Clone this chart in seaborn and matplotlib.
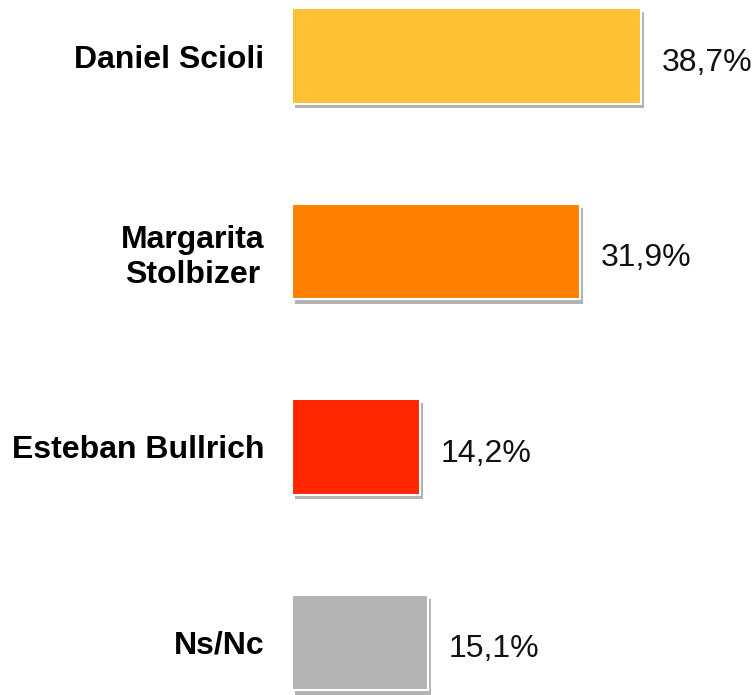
import matplotlib
matplotlib.use("Agg")
import matplotlib.pyplot as plt
import matplotlib.patheffects as pe
import seaborn as sns
import pandas as pd

categories = ["Daniel Scioli", "Margarita\nStolbizer", "Esteban Bullrich", "Ns/Nc"]
values = [38.7, 31.9, 14.2, 15.1]
value_labels = ["38,7%", "31,9%", "14,2%", "15,1%"]
colors = ["#FFC133", "#FF8000", "#FF2600", "#B3B3B3"]

sns.set_theme(style="white")
plt.rcParams["font.family"] = ["Liberation Sans", "DejaVu Sans"]

df = pd.DataFrame({"cat": categories, "val": values})

fig = plt.figure(figsize=(7.56, 6.95), dpi=100)
ax = fig.add_axes([292 / 756, 0, 1 - 292 / 756, 1])
sns.barplot(data=df, x="val", y="cat", hue="cat", palette=colors, orient="h",
            width=0.49, legend=False, ax=ax, saturation=1)

for p in ax.patches:
    p.set_edgecolor("white")
    p.set_linewidth(1.5)
    p.set_path_effects([pe.SimplePatchShadow(offset=(2, -3), shadow_rgbFace="#666666", alpha=0.5),
                        pe.Normal()])

for i, (v, lab) in enumerate(zip(values, value_labels)):
    ax.text(v + 2.3, i + 0.035, lab, va="center", ha="left", fontsize=23, color="#111111")

ax.set_xlim(0, 464 / 9.02)
ax.set_ylim(3 + 52.5 / 195.5, -56 / 195.5)
ax.set_xlabel("")
ax.set_ylabel("")
ax.set_xticks([])
ax.tick_params(axis="y", length=0, pad=20)
for t in ax.get_yticklabels():
    t.set_fontweight("bold")
    t.set_fontsize(23)
    t.set_multialignment("center")
    t.set_color("black")
    t.set_y(t.get_position()[1])
for s in ax.spines.values():
    s.set_visible(False)

fig.savefig("out.png", dpi=100)
